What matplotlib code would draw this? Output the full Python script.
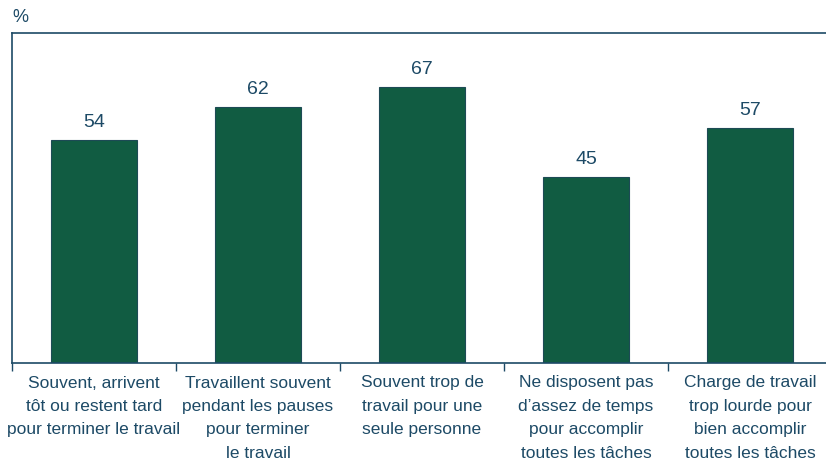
import matplotlib.pyplot as plt
import numpy as np

categories = [
    "Souvent, arrivent\ntôt ou restent tard\npour terminer le travail",
    "Travaillent souvent\npendant les pauses\npour terminer\nle travail",
    "Souvent trop de\ntravail pour une\nseule personne",
    "Ne disposent pas\nd\u2019assez de temps\npour accomplir\ntoutes les tâches",
    "Charge de travail\ntrop lourde pour\nbien accomplir\ntoutes les tâches",
]
values = [54, 62, 67, 45, 57]

bar_color = "#115c42"
text_color = "#1d4a66"
line_color = "#1d4a66"

plt.rcParams['font.family'] = ['Liberation Sans', 'DejaVu Sans']

fig = plt.figure(figsize=(8.26, 4.68), dpi=100)
ax = fig.add_axes([12 / 826, 105 / 468, 820 / 826, 330 / 468])

x = np.arange(len(values))
ax.bar(x, values, width=0.53, color=bar_color, edgecolor="#1d4a55", linewidth=0.8)

for xi, v in zip(x, values):
    ax.text(xi, v + 2.2, str(v), ha="center", va="bottom", fontsize=14, color=text_color)

ax.set_xlim(-0.5, len(values) - 0.5)
ax.set_ylim(0, 80)
ax.set_yticks([])

ax.set_xticks(x)
ax.set_xticklabels(categories, fontsize=12.5, color=text_color, linespacing=1.7)
ax.tick_params(axis="x", which="major", length=0, pad=9)
ax.set_xticks(np.arange(len(values)) - 0.5, minor=True)
ax.tick_params(axis="x", which="minor", length=6, width=1, color=line_color, direction="out")

for side in ["left", "bottom", "top"]:
    ax.spines[side].set_color(line_color)
    ax.spines[side].set_linewidth(1.2)
ax.spines["right"].set_visible(False)

fig.text(12 / 826, 1 - 17 / 468, "%", ha="left", va="center", fontsize=13, color=text_color)

fig.savefig("out.png", dpi=100)
